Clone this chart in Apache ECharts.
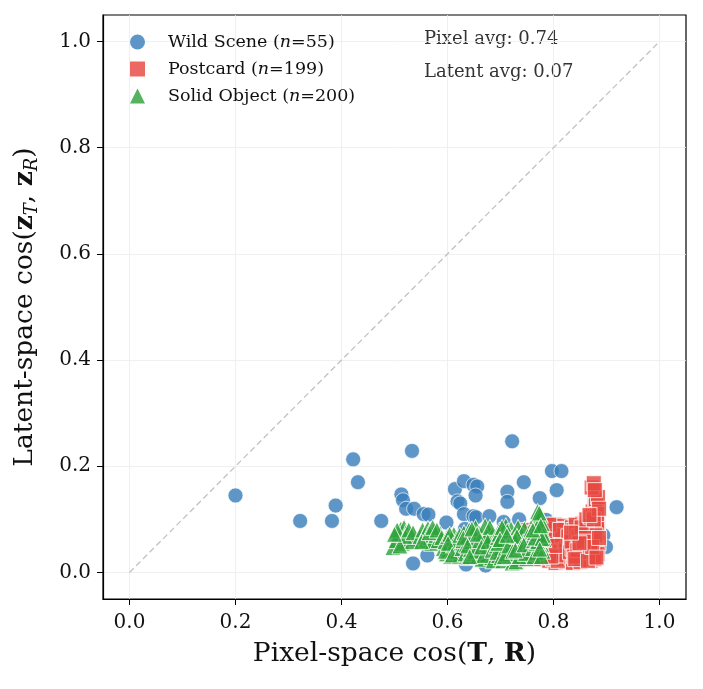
<!DOCTYPE html>
<html>
<head>
<meta charset="utf-8">
<script src="https://cdn.jsdelivr.net/npm/echarts@6/dist/echarts.min.js"></script>
<style>
  html, body { margin: 0; padding: 0; background: #fff; }
  #chart { width: 703px; height: 689px; }
</style>
</head>
<body>
<div id="chart"></div>
<script>
// 数据：[pixel cos, latent cos]
const wildScene = [
  [0.200, 0.145], [0.322, 0.097], [0.382, 0.097], [0.389, 0.126], [0.422, 0.213],
  [0.431, 0.170], [0.475, 0.097], [0.533, 0.229], [0.722, 0.247], [0.513, 0.147],
  [0.516, 0.136], [0.522, 0.120], [0.537, 0.120], [0.555, 0.110], [0.564, 0.109],
  [0.614, 0.157], [0.631, 0.172], [0.649, 0.165], [0.656, 0.162], [0.653, 0.145],
  [0.619, 0.134], [0.624, 0.130], [0.631, 0.110], [0.649, 0.106], [0.654, 0.104],
  [0.679, 0.106], [0.598, 0.094], [0.633, 0.082], [0.713, 0.152], [0.713, 0.133],
  [0.744, 0.170], [0.706, 0.095], [0.735, 0.100], [0.691, 0.051], [0.562, 0.032],
  [0.535, 0.017], [0.635, 0.015], [0.672, 0.013], [0.797, 0.191], [0.815, 0.191],
  [0.806, 0.155], [0.774, 0.140], [0.919, 0.123], [0.786, 0.099], [0.894, 0.070],
  [0.899, 0.048], [0.585, 0.060], [0.640, 0.050], [0.700, 0.035], [0.725, 0.070],
  [0.760, 0.055], [0.665, 0.065], [0.820, 0.060], [0.850, 0.045], [0.740, 0.030]
]

const postcard = [
  [0.738, 0.070], [0.742, 0.055], [0.746, 0.075], [0.750, 0.042], [0.754, 0.065],
  [0.758, 0.030], [0.762, 0.052], [0.766, 0.072], [0.770, 0.040], [0.773, 0.060],
  [0.776, 0.025], [0.779, 0.078], [0.745, 0.035], [0.752, 0.080], [0.760, 0.062],
  [0.764, 0.045], [0.768, 0.058], [0.772, 0.085], [0.777, 0.048], [0.756, 0.050],
  [0.782, 0.030], [0.784, 0.050], [0.786, 0.068], [0.788, 0.085], [0.790, 0.040],
  [0.792, 0.022], [0.794, 0.060], [0.796, 0.078], [0.798, 0.035], [0.800, 0.052],
  [0.802, 0.090], [0.804, 0.018], [0.806, 0.065], [0.808, 0.045], [0.810, 0.075],
  [0.812, 0.028], [0.814, 0.058], [0.816, 0.082], [0.818, 0.038], [0.820, 0.068],
  [0.822, 0.050], [0.824, 0.020], [0.826, 0.072], [0.828, 0.042], [0.830, 0.060],
  [0.783, 0.062], [0.787, 0.040], [0.791, 0.075], [0.795, 0.048], [0.799, 0.025],
  [0.803, 0.070], [0.807, 0.032], [0.811, 0.055], [0.815, 0.088], [0.819, 0.025],
  [0.823, 0.062], [0.827, 0.035], [0.785, 0.080], [0.793, 0.055], [0.801, 0.040],
  [0.809, 0.062], [0.817, 0.048], [0.825, 0.080], [0.789, 0.028], [0.797, 0.065],
  [0.805, 0.082], [0.813, 0.040], [0.821, 0.058], [0.829, 0.025], [0.781, 0.045],
  [0.800, 0.068], [0.808, 0.022], [0.816, 0.070], [0.824, 0.045], [0.792, 0.090],
  [0.812, 0.080], [0.820, 0.032], [0.828, 0.068], [0.796, 0.030], [0.804, 0.050],
  [0.832, 0.050], [0.834, 0.028], [0.836, 0.072], [0.838, 0.040], [0.840, 0.088],
  [0.842, 0.060], [0.844, 0.020], [0.846, 0.078], [0.848, 0.045], [0.850, 0.065],
  [0.852, 0.032], [0.854, 0.092], [0.856, 0.055], [0.858, 0.022], [0.860, 0.075],
  [0.862, 0.042], [0.864, 0.085], [0.866, 0.060], [0.868, 0.030], [0.870, 0.098],
  [0.872, 0.052], [0.874, 0.070], [0.876, 0.038], [0.878, 0.088], [0.880, 0.062],
  [0.882, 0.045], [0.884, 0.078], [0.833, 0.065], [0.837, 0.018], [0.841, 0.048],
  [0.845, 0.062], [0.849, 0.082], [0.853, 0.040], [0.857, 0.068], [0.861, 0.025],
  [0.865, 0.048], [0.869, 0.080], [0.873, 0.035], [0.877, 0.058], [0.881, 0.095],
  [0.885, 0.055], [0.835, 0.085], [0.839, 0.055], [0.843, 0.035], [0.847, 0.058],
  [0.851, 0.075], [0.855, 0.028], [0.859, 0.050], [0.863, 0.068], [0.867, 0.090],
  [0.871, 0.040], [0.875, 0.082], [0.879, 0.030], [0.883, 0.068], [0.831, 0.038],
  [0.840, 0.070], [0.848, 0.025], [0.856, 0.082], [0.864, 0.035], [0.872, 0.065],
  [0.880, 0.048], [0.836, 0.045], [0.844, 0.052], [0.852, 0.060], [0.860, 0.040],
  [0.868, 0.055], [0.876, 0.072], [0.884, 0.092], [0.838, 0.080], [0.846, 0.030],
  [0.854, 0.070], [0.862, 0.058], [0.870, 0.022], [0.878, 0.050], [0.842, 0.090],
  [0.850, 0.045], [0.858, 0.035], [0.866, 0.075], [0.874, 0.095], [0.882, 0.085],
  [0.834, 0.058], [0.843, 0.075], [0.851, 0.020], [0.859, 0.088], [0.867, 0.045],
  [0.875, 0.060], [0.883, 0.035], [0.839, 0.030], [0.847, 0.068], [0.855, 0.048],
  [0.863, 0.078], [0.871, 0.058], [0.879, 0.070], [0.845, 0.042], [0.853, 0.085],
  [0.861, 0.065], [0.869, 0.038], [0.877, 0.025], [0.841, 0.025], [0.857, 0.058],
  [0.865, 0.022], [0.873, 0.048], [0.881, 0.028], [0.849, 0.055], [0.833, 0.075],
  [0.886, 0.065], [0.862, 0.100],
  [0.870, 0.105], [0.874, 0.115], [0.878, 0.125], [0.880, 0.135], [0.884, 0.142],
  [0.872, 0.160], [0.876, 0.168], [0.878, 0.155], [0.882, 0.110], [0.876, 0.100],
  [0.886, 0.120], [0.868, 0.108]
]

const solidObject = [
  [0.497, 0.047], [0.503, 0.060], [0.508, 0.072], [0.512, 0.082], [0.518, 0.085],
  [0.522, 0.076], [0.525, 0.064], [0.515, 0.055], [0.530, 0.070], [0.533, 0.058],
  [0.505, 0.080], [0.520, 0.068], [0.527, 0.080], [0.510, 0.050], [0.500, 0.072],
  [0.535, 0.075],
  [0.548, 0.068], [0.553, 0.080], [0.557, 0.072], [0.560, 0.061], [0.563, 0.083],
  [0.567, 0.066], [0.570, 0.055], [0.575, 0.078], [0.578, 0.070], [0.582, 0.060],
  [0.586, 0.074], [0.551, 0.058], [0.565, 0.075], [0.572, 0.085], [0.580, 0.080],
  [0.589, 0.066],
  [0.592, 0.045], [0.595, 0.058], [0.598, 0.035], [0.600, 0.068], [0.603, 0.050],
  [0.606, 0.030], [0.608, 0.062], [0.610, 0.042], [0.612, 0.072], [0.614, 0.055],
  [0.616, 0.038], [0.618, 0.065], [0.620, 0.048], [0.622, 0.030], [0.624, 0.060],
  [0.596, 0.040], [0.604, 0.072], [0.611, 0.052], [0.619, 0.040], [0.601, 0.055],
  [0.609, 0.033], [0.623, 0.070],
  [0.627, 0.045], [0.629, 0.060], [0.631, 0.075], [0.633, 0.035], [0.635, 0.052],
  [0.637, 0.068], [0.639, 0.028], [0.641, 0.080], [0.643, 0.043], [0.645, 0.058],
  [0.647, 0.070], [0.649, 0.036], [0.651, 0.050], [0.653, 0.085], [0.655, 0.064],
  [0.657, 0.030], [0.659, 0.047], [0.661, 0.074], [0.663, 0.056], [0.665, 0.025],
  [0.667, 0.040], [0.669, 0.066], [0.671, 0.088], [0.673, 0.052], [0.675, 0.034],
  [0.677, 0.078], [0.679, 0.045], [0.681, 0.060], [0.683, 0.028], [0.685, 0.070],
  [0.687, 0.050], [0.689, 0.038], [0.630, 0.065], [0.638, 0.050], [0.646, 0.082],
  [0.652, 0.040], [0.660, 0.060], [0.668, 0.032], [0.674, 0.068], [0.680, 0.085],
  [0.686, 0.022], [0.642, 0.030], [0.656, 0.072], [0.664, 0.048], [0.676, 0.058],
  [0.684, 0.042],
  [0.692, 0.050], [0.694, 0.066], [0.696, 0.032], [0.698, 0.080], [0.700, 0.045],
  [0.702, 0.060], [0.704, 0.022], [0.706, 0.075], [0.708, 0.038], [0.710, 0.088],
  [0.712, 0.055], [0.714, 0.028], [0.716, 0.068], [0.718, 0.042], [0.720, 0.082],
  [0.722, 0.018], [0.724, 0.060], [0.726, 0.035], [0.728, 0.072], [0.730, 0.050],
  [0.732, 0.025], [0.734, 0.065], [0.736, 0.040], [0.738, 0.078], [0.740, 0.055],
  [0.742, 0.030], [0.744, 0.070], [0.746, 0.045], [0.748, 0.060], [0.750, 0.035],
  [0.752, 0.075], [0.754, 0.050], [0.756, 0.040], [0.758, 0.065], [0.693, 0.038],
  [0.697, 0.072], [0.701, 0.028], [0.705, 0.058], [0.709, 0.046], [0.713, 0.078],
  [0.717, 0.032], [0.721, 0.064], [0.725, 0.048], [0.729, 0.020], [0.733, 0.085],
  [0.737, 0.056], [0.741, 0.044], [0.745, 0.082], [0.749, 0.026], [0.753, 0.062],
  [0.757, 0.052], [0.695, 0.055], [0.703, 0.085], [0.711, 0.035], [0.719, 0.052],
  [0.727, 0.062], [0.735, 0.030], [0.743, 0.058], [0.751, 0.068], [0.699, 0.062],
  [0.707, 0.030], [0.715, 0.050], [0.723, 0.040], [0.731, 0.068], [0.739, 0.048],
  [0.747, 0.036], [0.755, 0.058], [0.712, 0.070], [0.728, 0.042], [0.744, 0.052],
  [0.760, 0.045], [0.762, 0.060], [0.764, 0.075], [0.766, 0.090], [0.768, 0.105],
  [0.770, 0.115], [0.772, 0.098], [0.774, 0.082], [0.776, 0.068], [0.778, 0.052],
  [0.780, 0.040], [0.782, 0.062], [0.779, 0.078], [0.772, 0.050], [0.768, 0.038],
  [0.763, 0.030], [0.767, 0.055], [0.771, 0.072], [0.775, 0.108], [0.779, 0.092],
  [0.770, 0.058], [0.765, 0.065], [0.769, 0.085], [0.773, 0.112], [0.777, 0.030],
  [0.781, 0.070], [0.778, 0.064], [0.761, 0.080], [0.776, 0.088], [0.774, 0.044]
]

// 对角参考线 y = x
const diagonal = [[0, 0], [1, 1]]

// 刻度
const tickValues = [0.0, 0.2, 0.4, 0.6, 0.8, 1.0]

// 图例文字
const legendCounts = { 'Wild Scene': '55', 'Postcard': '199', 'Solid Object': '200' }
const avgLabels = ['Pixel avg: 0.74', 'Latent avg: 0.07']

const SERIF = 'DejaVu Serif'

const axisCommon = {
  min: -0.05,
  max: 1.05,
  axisLine: { show: true, onZero: false, lineStyle: { color: '#000', width: 1.2 } },
  axisTick: {
    show: true,
    inside: false,
    length: 6,
    customValues: tickValues,
    lineStyle: { color: '#000', width: 1 }
  },
  axisLabel: {
    customValues: tickValues,
    formatter: v => v.toFixed(1),
    fontFamily: SERIF,
    fontSize: 20,
    color: '#111'
  },
  splitLine: { show: true, lineStyle: { color: '#ececec', width: 0.8 } }
}

const pointStyle = (color, border) => ({
  color: color,
  opacity: 0.82,
  borderColor: '#ffffff',
  borderWidth: border
})

const option = {
  animation: false,
  backgroundColor: '#fff',
  grid: {
    left: 103,
    top: 15,
    width: 583,
    height: 584,
    show: true,
    borderColor: '#000',
    borderWidth: 1.2,
    backgroundColor: 'transparent'
  },
  xAxis: {
    type: 'value',
    ...axisCommon,
    axisLabel: { ...axisCommon.axisLabel, margin: 14 },
    name: '{t|Pixel-space cos(}{b|T}{t|, }{b|R}{t|)}',
    nameLocation: 'middle',
    nameGap: 42,
    nameTextStyle: {
      rich: {
        t: { fontFamily: SERIF, fontSize: 26.5, color: '#111' },
        b: { fontFamily: SERIF, fontSize: 26.5, fontWeight: 'bold', color: '#111' }
      }
    }
  },
  yAxis: {
    type: 'value',
    ...axisCommon,
    axisLabel: { ...axisCommon.axisLabel, margin: 12 },
    name: '{t|Latent-space cos(}{b|z}{s|T}{t|, }{b|z}{s|R}{t|)}',
    nameLocation: 'middle',
    nameGap: 62,
    nameTextStyle: {
      rich: {
        t: { fontFamily: SERIF, fontSize: 26.5, color: '#111', lineHeight: 32 },
        b: { fontFamily: SERIF, fontSize: 26.5, fontWeight: 'bold', color: '#111', lineHeight: 32 },
        s: { fontFamily: SERIF, fontSize: 18, fontStyle: 'italic', color: '#111', lineHeight: 15, verticalAlign: 'bottom' }
      }
    }
  },
  legend: {
    orient: 'vertical',
    left: 130,
    top: 33,
    padding: 0,
    itemWidth: 15,
    itemHeight: 15,
    itemGap: 9,
    data: [
      { name: 'Wild Scene', icon: 'circle' },
      { name: 'Postcard', icon: 'rect' },
      { name: 'Solid Object', icon: 'triangle' }
    ],
    itemStyle: { borderWidth: 0, opacity: 0.82 },
    formatter: name => `{t|${name} (}{i|n}{t|=${legendCounts[name]})}`,
    textStyle: {
      padding: [0, 0, 0, 18],
      rich: {
        t: { fontFamily: SERIF, fontSize: 17.5, color: '#111', lineHeight: 18 },
        i: { fontFamily: SERIF, fontSize: 17.5, fontStyle: 'italic', color: '#111', lineHeight: 18 }
      }
    }
  },
  graphic: [
    {
      type: 'text',
      left: 424,
      top: 30,
      style: { text: avgLabels[0], font: `18px "${SERIF}"`, fill: '#333' }
    },
    {
      type: 'text',
      left: 424,
      top: 63,
      style: { text: avgLabels[1], font: `18px "${SERIF}"`, fill: '#333' }
    }
  ],
  series: [
    {
      name: 'y=x',
      type: 'line',
      data: diagonal,
      symbol: 'none',
      silent: true,
      z: 1,
      lineStyle: { color: '#c2c2c2', width: 1.3, type: [6, 3.5] }
    },
    {
      name: 'Wild Scene',
      type: 'scatter',
      data: wildScene,
      symbol: 'circle',
      symbolSize: 15,
      z: 2,
      itemStyle: pointStyle('#3b80bb', 0.8)
    },
    {
      name: 'Postcard',
      type: 'scatter',
      data: postcard,
      symbol: 'rect',
      symbolSize: 15,
      z: 3,
      itemStyle: pointStyle('#e6483f', 1)
    },
    {
      name: 'Solid Object',
      type: 'scatter',
      data: solidObject,
      symbol: 'triangle',
      symbolSize: 16,
      z: 4,
      itemStyle: pointStyle('#2ea23a', 1)
    }
  ]
}

const chart = echarts.init(document.getElementById('chart'))
chart.setOption(option)
</script>
</body>
</html>
